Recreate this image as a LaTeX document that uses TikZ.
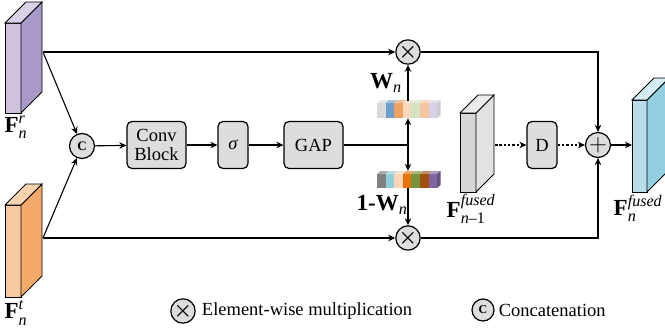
\documentclass[tikz,border=0pt]{standalone}
\usepackage{amsmath}
\usepackage{fontspec}
\setmainfont{Liberation Serif}
\usetikzlibrary{arrows.meta,positioning}
\definecolor{boxgray}{RGB}{221,221,221}
\definecolor{rgbFront}{RGB}{206,194,223}
\definecolor{rgbSide}{RGB}{169,153,200}
\definecolor{rgbTop}{RGB}{218,208,232}
\definecolor{thFront}{RGB}{249,201,161}
\definecolor{thSide}{RGB}{244,170,106}
\definecolor{thTop}{RGB}{250,211,176}
\definecolor{fsFront}{RGB}{214,214,214}
\definecolor{fsSide}{RGB}{226,226,226}
\definecolor{fsTop}{RGB}{236,236,236}
\definecolor{outFront}{RGB}{184,221,233}
\definecolor{outSide}{RGB}{147,207,224}
\definecolor{outTop}{RGB}{213,237,244}
% weight vector cells
\definecolor{wa}{RGB}{217,217,217}
\definecolor{wb}{RGB}{109,158,203}
\definecolor{wc}{RGB}{240,160,96}
\definecolor{wd}{RGB}{250,216,189}
\definecolor{we}{RGB}{214,227,195}
\definecolor{wf}{RGB}{246,196,160}
\definecolor{wg}{RGB}{216,208,230}
\definecolor{va}{RGB}{128,128,128}
\definecolor{vb}{RGB}{146,205,220}
\definecolor{vc}{RGB}{251,213,181}
\definecolor{vd}{RGB}{232,114,12}
\definecolor{ve}{RGB}{119,147,60}
\definecolor{vf}{RGB}{160,80,10}
\definecolor{vg}{RGB}{128,100,162}
% feature slab: x, y, width, height, depth, front, side, top
\newcommand{\slab}[8]{%
  \draw[line width=0.9pt, fill=#6] (#1,#2) rectangle ++(#3,#4);
  \draw[line width=0.9pt, fill=#7] (#1+#3,#2) -- ++(#5,-#5) -- ++(0,#4) -- ++(-#5,#5) -- cycle;
  \draw[line width=0.9pt, fill=#8] (#1,#2) -- ++(#5,-#5) -- ++(#3,0) -- ++(-#5,#5) -- cycle;
}
\newcommand{\mulsym}{\fontsize{21}{21}\selectfont$\boldsymbol{\times}$}
\tikzset{
  blk/.style={draw, line width=1.2pt, rounded corners=5pt, fill=boxgray, align=center,
    minimum height=47pt, inner sep=0pt, font=\fontsize{18.5}{19}\selectfont},
  op/.style={draw, circle, line width=1.2pt, fill=boxgray, inner sep=0pt, minimum size=23pt},
  flow/.style={-{Stealth[length=7pt,width=6.5pt]}, line width=1.1pt},
  dflow/.style={flow, dash pattern=on 2.5pt off 1.8pt},
  lbl/.style={inner sep=0pt, font=\fontsize{23}{24}\selectfont},
  vec/.style={inner sep=0pt, minimum width=65pt, minimum height=17pt}
}
\begin{document}
\begin{tikzpicture}[x=1pt, y=-1pt]
\useasboundingbox (0,0) rectangle (665,330);
\clip (0,0) rectangle (665,330);
% input features
\slab{5}{23}{16}{90}{21}{rgbFront}{rgbSide}{rgbTop}
\slab{5}{205}{16}{92}{21}{thFront}{thSide}{thTop}
\coordinate (fr) at (43,52);
\coordinate (ft) at (43,238);
\node[lbl] (frLbl) at (16,127) {$\textbf{F}_{\textit{n}}^{\textit{r}}$};
\node[lbl] (ftLbl) at (16,313) {$\textbf{F}_{\textit{n}}^{\textit{t}}$};

% weight branch
\node[op, minimum size=25pt] (cat) at (82,146) {\fontsize{13}{13}\selectfont\textbf{C}};
\node[blk, minimum width=59pt] (conv) at (156.5,145) {Conv\\Block};
\node[blk, minimum width=30pt] (sig) at (233,145) {\itshape σ};
\node[blk, minimum width=59pt] (gap) at (313.5,145) {GAP};
\coordinate (split) at (408,145);
\node[vec] (wTop) at (408,109.5) {};
\node[vec] (wBot) at (408,179.5) {};
\foreach \c [count=\i from 0] in {wa,wb,wc,wd,we,wf,wg} {
  \fill[\c] (377+8.6*\i,103) rectangle ++(8.6,15);
  \fill[\c!65!white] (377+8.6*\i,103) -- ++(3.5,-3) -- ++(8.6,0) -- ++(-3.5,3) -- cycle;
}
\fill[wg!80!black!60] (437.2,103) -- ++(3.5,-3) -- ++(0,15) -- ++(-3.5,3) -- cycle;
\foreach \c [count=\i from 0] in {va,vb,vc,vd,ve,vf,vg} {
  \fill[\c] (377+8.6*\i,174) rectangle ++(8.6,14);
  \fill[\c!65!white] (377+8.6*\i,174) -- ++(3.5,-3) -- ++(8.6,0) -- ++(-3.5,3) -- cycle;
}
\fill[vg!80!black] (437.2,174) -- ++(3.5,-3) -- ++(0,14) -- ++(-3.5,3) -- cycle;
\node[lbl] (wLbl) at (386,83) {$\textbf{W}_{\textit{n}}$};
\node[lbl] (w1Lbl) at (382,205) {$\textbf{1-W}_{\textit{n}}$};
\node[op] (mulTop) at (408,52) {\mulsym};
\node[op] (mulBot) at (408,238) {\mulsym};

% previous fused feature and output
\slab{460}{113}{16}{79}{18}{fsFront}{fsSide}{fsTop}
\coordinate (fp) at (495,145);
\node[lbl] (fpLbl) at (471,209) {$\textbf{F}_{\text{\textit{n}\textendash1}}^{\textit{fused}}$};
\node[blk, minimum width=30pt] (dly) at (542,145) {D};
\node[op, minimum size=25pt] (plus) at (598,145) {\fontsize{26}{26}\selectfont$+$};
\slab{632}{100}{15}{92}{22}{outFront}{outSide}{outTop}
\coordinate (fo) at (632,145);
\node[lbl] (foLbl) at (638,208) {$\textbf{F}_{\textit{n}}^{\textit{fused}}$};

% connectors
\draw[flow] (fr) -- (mulTop);
\draw[flow] (fr) -- (cat);
\draw[flow] (ft) -- (mulBot);
\draw[flow] (ft) -- (cat);
\draw[flow] (cat) -- (conv);
\draw[flow] (conv) -- (sig);
\draw[flow] (sig) -- (gap);
\draw[line width=1.1pt] (gap) -- (split);
\draw[flow] (split) -- (wTop.south);
\draw[flow] (split) -- (wBot.north);
\draw[flow] (wTop.north) -- (mulTop);
\draw[flow] (wBot.south) -- (mulBot);
\draw[flow] (mulTop) -| (plus);
\draw[flow] (mulBot) -| (plus);
\draw[dflow] (fp) -- (dly);
\draw[dflow] (dly) -- (plus);
\draw[flow] (plus) -- (fo);

% legend
\node[op, minimum size=22pt] (lgMul) at (183,311) {\mulsym};
\node[right=6pt of lgMul, inner sep=0pt, font=\fontsize{18.5}{19}\selectfont] (lgMulTxt) {Element-wise multiplication};
\node[op, minimum size=22pt] (lgCat) at (483,310) {\fontsize{12}{12}\selectfont\textbf{C}};
\node[right=4pt of lgCat, inner sep=0pt, font=\fontsize{18.5}{19}\selectfont] (lgCatTxt) {Concatenation};
\end{tikzpicture}
\end{document}
